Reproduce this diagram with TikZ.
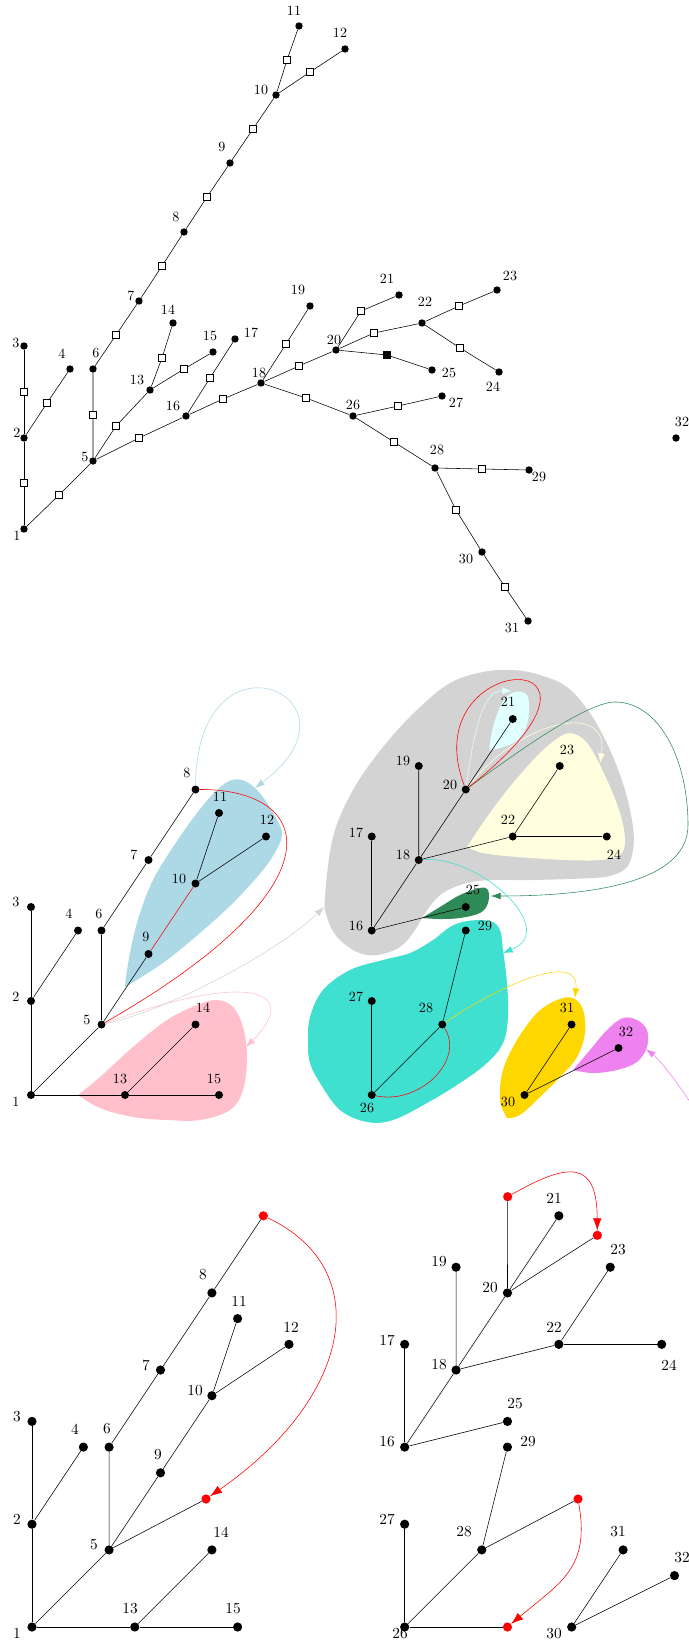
\documentclass[tikz,border=0pt]{standalone}
\usepackage{tikz}
\usetikzlibrary{arrows.meta}
\usepackage{xcolor}
\definecolor{blobblue}{RGB}{173,216,230}
\definecolor{blobpink}{RGB}{255,192,203}
\definecolor{blobgray}{RGB}{211,211,211}
\definecolor{blobcyan}{RGB}{224,255,255}
\definecolor{blobyellow}{RGB}{255,255,224}
\definecolor{blobgreen}{RGB}{46,139,87}
\definecolor{blobturq}{RGB}{64,224,208}
\definecolor{blobgold}{RGB}{255,215,0}
\definecolor{blobviolet}{RGB}{238,130,238}
\tikzset{
  vtxA/.style={circle, fill=black, inner sep=0pt, minimum size=0.185cm},
  vtxB/.style={circle, fill=black, inner sep=0pt, minimum size=0.2cm},
  vtxC/.style={circle, fill=black, inner sep=0pt, minimum size=0.23cm},
  hitC/.style={vtxC, fill=red},
  sq/.style={rectangle, draw=black, fill=white, inner sep=0pt, minimum size=0.17cm, line width=0.5pt},
  sqfull/.style={sq, fill=black},
  lbl/.style={inner sep=0pt},
  lblC/.style={inner sep=0pt, font=\fontsize{10.9}{13}\selectfont},
  tipB/.style={-{Latex[length=2.4mm,width=1.7mm]}},
  tipC/.style={-{Latex[length=3mm,width=2.1mm]}}
}
\begin{document}
\begin{tikzpicture}[x=0.025cm, y=-0.025cm]
\useasboundingbox (0,0) rectangle (689,1641);

\node[vtxA] (a1) at (24,529) {};
\node[vtxA] (a2) at (24,438) {};
\node[vtxA] (a3) at (24,346) {};
\node[vtxA] (a4) at (70,369) {};
\node[vtxA] (a5) at (93,461) {};
\node[vtxA] (a6) at (93,369) {};
\node[vtxA] (a7) at (139,301) {};
\node[vtxA] (a8) at (184,232) {};
\node[vtxA] (a9) at (230,163) {};
\node[vtxA] (a10) at (276,95) {};
\node[vtxA] (a11) at (299,26) {};
\node[vtxA] (a12) at (345,49) {};
\node[vtxA] (a13) at (150,390) {};
\node[vtxA] (a14) at (173,323) {};
\node[vtxA] (a15) at (213,352) {};
\node[vtxA] (a16) at (186,416) {};
\node[vtxA] (a17) at (235,339) {};
\node[vtxA] (a18) at (261,383) {};
\node[vtxA] (a19) at (310,306) {};
\node[vtxA] (a20) at (336,350) {};
\node[vtxA] (a21) at (399,295) {};
\node[vtxA] (a22) at (422,323) {};
\node[vtxA] (a23) at (497,290) {};
\node[vtxA] (a24) at (499,372) {};
\node[vtxA] (a25) at (432,370) {};
\node[vtxA] (a26) at (353,416) {};
\node[vtxA] (a27) at (442,396) {};
\node[vtxA] (a28) at (435,468) {};
\node[vtxA] (a29) at (529,470) {};
\node[vtxA] (a30) at (482,552) {};
\node[vtxA] (a31) at (528,621) {};
\node[vtxA] (a32) at (676,438) {};

\node[sq] (m1x2) at (24,483) {};
\node[sq] (m2x3) at (24,392) {};
\node[sq] (m2x4) at (47,403) {};
\node[sq] (m1x5) at (59,495) {};
\node[sq] (m5x6) at (93,415) {};
\node[sq] (m6x7) at (116,335) {};
\node[sq] (m7x8) at (162,266) {};
\node[sq] (m8x9) at (207,197) {};
\node[sq] (m9x10) at (253,129) {};
\node[sq] (m10x11) at (287,60) {};
\node[sq] (m10x12) at (310,72) {};
\node[sq] (m5x13) at (116,426) {};
\node[sq] (m13x14) at (162,358) {};
\node[sq] (m13x15) at (184,369) {};
\node[sq] (m5x16) at (139,438) {};
\node[sq] (m16x17) at (210,378) {};
\node[sq] (m16x18) at (223,399) {};
\node[sq] (m18x19) at (286,344) {};
\node[sq] (m18x20) at (299,366) {};
\node[sq] (m18x26) at (306,398) {};
\node[sq] (m20x21) at (361,311) {};
\node[sq] (m20x22) at (374,333) {};
\node[sqfull] (m20x25) at (387,355) {};
\node[sq] (m22x23) at (459,306) {};
\node[sq] (m22x24) at (460,348) {};
\node[sq] (m26x27) at (398,406) {};
\node[sq] (m26x28) at (394,442) {};
\node[sq] (m28x29) at (482,469) {};
\node[sq] (m28x30) at (456,510) {};
\node[sq] (m30x31) at (505,587) {};

\draw (a1) -- (m1x2) -- (a2) -- (m2x3) -- (a3);
\draw (a2) -- (m2x4) -- (a4);
\draw (a1) -- (m1x5) -- (a5) -- (m5x6) -- (a6) -- (m6x7) -- (a7) -- (m7x8) -- (a8) -- (m8x9) -- (a9) -- (m9x10) -- (a10) -- (m10x11) -- (a11);
\draw (a10) -- (m10x12) -- (a12);
\draw (a5) -- (m5x13) -- (a13) -- (m13x14) -- (a14);
\draw (a13) -- (m13x15) -- (a15);
\draw (a5) -- (m5x16) -- (a16) -- (m16x17) -- (a17);
\draw (a16) -- (m16x18) -- (a18) -- (m18x19) -- (a19);
\draw (a18) -- (m18x20) -- (a20) -- (m20x21) -- (a21);
\draw (a20) -- (m20x22) -- (a22) -- (m22x23) -- (a23);
\draw (a22) -- (m22x24) -- (a24);
\draw (a20) -- (m20x25) -- (a25);
\draw (a18) -- (m18x26) -- (a26) -- (m26x27) -- (a27);
\draw (a26) -- (m26x28) -- (a28) -- (m28x29) -- (a29);
\draw (a28) -- (m28x30) -- (a30) -- (m30x31) -- (a31);

\node[lbl] (la1) at (17,536) {1};
\node[lbl] (la2) at (17,433) {2};
\node[lbl] (la3) at (16,343) {3};
\node[lbl] (la4) at (62,354) {4};
\node[lbl] (la5) at (85,457) {5};
\node[lbl] (la6) at (96,353) {6};
\node[lbl] (la7) at (131,296) {7};
\node[lbl] (la8) at (176,217) {8};
\node[lbl] (la9) at (222,147) {9};
\node[lbl] (la10) at (261,90) {10};
\node[lbl] (la11) at (294,11) {11};
\node[lbl] (la12) at (340,33) {12};
\node[lbl] (la13) at (137,380) {13};
\node[lbl] (la14) at (168,310) {14};
\node[lbl] (la15) at (210,336) {15};
\node[lbl] (la16) at (173,406) {16};
\node[lbl] (la17) at (251,333) {17};
\node[lbl] (la18) at (259,373) {18};
\node[lbl] (la19) at (298,290) {19};
\node[lbl] (la20) at (334,340) {20};
\node[lbl] (la21) at (387,279) {21};
\node[lbl] (la22) at (425,302) {22};
\node[lbl] (la23) at (510,276) {23};
\node[lbl] (la24) at (493,387) {24};
\node[lbl] (la25) at (449,373) {25};
\node[lbl] (la26) at (353,405) {26};
\node[lbl] (la27) at (456,403) {27};
\node[lbl] (la28) at (437,450) {28};
\node[lbl] (la29) at (539,477) {29};
\node[lbl] (la30) at (466,559) {30};
\node[lbl] (la31) at (512,628) {31};
\node[lbl] (la32) at (682,422) {32};

\fill[blobgray] plot[smooth cycle, tension=0.6] coordinates {(325,897) (333,837) (353,790) (383,747) (417,710) (450,683) (483,672) (513,670) (540,675) (567,687) (590,713) (610,750) (625,790) (633,827) (633,850) (627,867) (613,875) (593,878) (533,880) (493,880) (467,883) (443,893) (427,910) (415,930) (400,947) (377,955) (357,952) (337,937) (327,917)};
\fill[blobcyan] plot[smooth, tension=0.6] coordinates {(489,750) (493,727) (502,703) (512,693) (522,692) (528,697) (529,713) (525,730) (515,742) (500,748) (489,750)} -- cycle;
\fill[blobyellow] plot[smooth, tension=0.6] coordinates {(467,847) (487,817) (513,783) (540,753) (563,735) (577,735) (590,747) (607,780) (620,813) (625,840) (620,855) (600,860) (567,860) (517,857) (483,853) (467,847)} -- cycle;
\fill[blobgreen] plot[smooth, tension=0.6] coordinates {(422,918) (440,907) (460,895) (480,888) (488,890) (488,903) (480,913) (460,918) (440,919) (422,918)} -- cycle;
\fill[blobturq] plot[smooth cycle, tension=0.6] coordinates {(308,1043) (310,1017) (323,990) (350,970) (383,960) (410,953) (433,940) (450,927) (467,921) (490,921) (500,930) (503,950) (507,983) (508,1017) (503,1043) (487,1063) (460,1083) (427,1103) (393,1120) (367,1122) (340,1110) (320,1083) (310,1063)};
\fill[blobgold] plot[smooth, tension=0.6] coordinates {(507,1118) (500,1100) (503,1070) (517,1040) (537,1013) (557,1000) (573,998) (583,1010) (585,1033) (577,1057) (560,1077) (540,1097) (520,1115) (507,1118)} -- cycle;
\fill[blobviolet] plot[smooth, tension=0.6] coordinates {(573,1070) (590,1050) (607,1030) (623,1018) (637,1020) (647,1030) (647,1047) (637,1062) (617,1070) (593,1073) (573,1070)} -- cycle;
\fill[blobblue] plot[smooth, tension=0.6] coordinates {(125,987) (127,970) (132,943) (140,913) (153,880) (173,847) (197,813) (217,790) (232,780) (247,782) (263,797) (277,820) (282,833) (278,847) (263,870) (233,903) (200,933) (167,960) (140,978) (125,987)} -- cycle;
\fill[blobpink] plot[smooth, tension=0.6] coordinates {(78,1095) (100,1077) (133,1047) (167,1020) (197,1005) (217,1000) (233,1007) (243,1027) (247,1057) (243,1090) (230,1110) (200,1120) (167,1120) (133,1117) (100,1108) (78,1095)} -- cycle;

\node[vtxB] (b1) at (31,1095) {};
\node[vtxB] (b2) at (31,1001) {};
\node[vtxB] (b3) at (31,907) {};
\node[vtxB] (b4) at (78,930.5) {};
\node[vtxB] (b5) at (101.5,1024.5) {};
\node[vtxB] (b6) at (101.5,930.5) {};
\node[vtxB] (b7) at (148.5,860) {};
\node[vtxB] (b8) at (195.5,789.5) {};
\node[vtxB] (b9) at (148.5,954) {};
\node[vtxB] (b10) at (195.5,883.5) {};
\node[vtxB] (b11) at (219,813) {};
\node[vtxB] (b12) at (266,836.5) {};
\node[vtxB] (b13) at (125,1095) {};
\node[vtxB] (b14) at (195.5,1024.5) {};
\node[vtxB] (b15) at (219,1095) {};
\node[vtxB] (b16) at (371.75,930.5) {};
\node[vtxB] (b17) at (371.75,836.5) {};
\node[vtxB] (b18) at (418.75,860) {};
\node[vtxB] (b19) at (418.75,766) {};
\node[vtxB] (b20) at (465.75,789.5) {};
\node[vtxB] (b21) at (512.75,719) {};
\node[vtxB] (b22) at (512.75,836.5) {};
\node[vtxB] (b23) at (559.75,766) {};
\node[vtxB] (b24) at (606.75,836.5) {};
\node[vtxB] (b25) at (465.75,907) {};
\node[vtxB] (b26) at (371.75,1095) {};
\node[vtxB] (b27) at (371.75,1001) {};
\node[vtxB] (b28) at (442.25,1024.5) {};
\node[vtxB] (b29) at (465.75,930.5) {};
\node[vtxB] (b30) at (524.5,1095) {};
\node[vtxB] (b31) at (571.5,1024.5) {};
\node[vtxB] (b32) at (618.5,1048) {};

\coordinate (tipLB) at (255,788);
\coordinate (tipPK) at (246,1047);
\coordinate (tipGY) at (324,907);
\coordinate (tipCY) at (512,691);
\coordinate (tipYL) at (600,763);
\coordinate (tipGN) at (491,896);
\coordinate (tipTQ) at (503,953);
\coordinate (tipGD) at (575,998);
\coordinate (tipVL) at (646,1049);
\coordinate (srcVL) at (705,1125);

\draw[blobblue, tipB] (b8) .. controls (197,619) and (375,698) .. (tipLB);
\draw[blobpink, tipB] (b5) .. controls (251,970) and (302,991) .. (tipPK);
\draw[blobgray, tipB] (b5) .. controls (170,1010) and (280,950) .. (tipGY);
\draw[blobcyan, tipB] (b20) .. controls (474,730) and (483,690) .. (tipCY);
\draw[blobyellow, tipB] (b20) .. controls (520,720) and (610,700) .. (tipYL);
\draw[blobgreen, tipB] (b20) .. controls (520,750) and (590,700) .. (617,702) .. controls (660,704) and (688,760) .. (688,825) .. controls (688,880) and (600,896) .. (tipGN);
\draw[blobturq, tipB] (b18) .. controls (480,855) and (560,930) .. (tipTQ);
\draw[blobgold, tipB] (b28) .. controls (500,985) and (580,950) .. (tipGD);
\draw[blobviolet, tipB] (srcVL) .. controls (680,1085) and (660,1060) .. (tipVL);
\draw[red] (b8) .. controls (315,789) and (345,885) .. (b5);
\draw[red] (b20) .. controls (412,648) and (655,640) .. (b20);
\draw[red] (b26) .. controls (420,1105) and (465,1060) .. (b28);

\draw (b1) -- (b2) -- (b3);
\draw (b2) -- (b4);
\draw (b1) -- (b5) -- (b6) -- (b7) -- (b8);
\draw (b5) -- (b9);
\draw[red] (b9) -- (b10);
\draw (b10) -- (b11);
\draw (b10) -- (b12);
\draw (b1) -- (b13) -- (b15);
\draw (b13) -- (b14);
\draw (b16) -- (b17);
\draw (b16) -- (b18) -- (b19);
\draw (b18) -- (b20) -- (b21);
\draw (b18) -- (b22) -- (b23);
\draw (b22) -- (b24);
\draw (b16) -- (b25);
\draw (b26) -- (b27);
\draw (b26) -- (b28) -- (b29);
\draw (b30) -- (b31);
\draw (b30) -- (b32);

\node[lbl] (lb1) at (16,1102) {1};
\node[lbl] (lb2) at (16,997) {2};
\node[lbl] (lb3) at (16,902) {3};
\node[lbl] (lb4) at (69,914) {4};
\node[lbl] (lb5) at (87,1020) {5};
\node[lbl] (lb6) at (99,914) {6};
\node[lbl] (lb7) at (134,855) {7};
\node[lbl] (lb8) at (187,773) {8};
\node[lbl] (lb9) at (146,937) {9};
\node[lbl] (lb10) at (179,879) {10};
\node[lbl] (lb11) at (220,797) {11};
\node[lbl] (lb12) at (267,820) {12};
\node[lbl] (lb13) at (120,1079) {13};
\node[lbl] (lb14) at (203,1008) {14};
\node[lbl] (lb15) at (214,1079) {15};
\node[lbl] (lb16) at (356,926) {16};
\node[lbl] (lb17) at (356,833) {17};
\node[lbl] (lb18) at (403,855) {18};
\node[lbl] (lb19) at (403,761) {19};
\node[lbl] (lb20) at (450,785) {20};
\node[lbl] (lb21) at (508,702) {21};
\node[lbl] (lb22) at (508,820) {22};
\node[lbl] (lb23) at (567,750) {23};
\node[lbl] (lb24) at (614,855) {24};
\node[lbl] (lb25) at (473,890) {25};
\node[lbl] (lb26) at (367,1108) {26};
\node[lbl] (lb27) at (356,997) {27};
\node[lbl] (lb28) at (426,1008) {28};
\node[lbl] (lb29) at (485,926) {29};
\node[lbl] (lb30) at (508,1102) {30};
\node[lbl] (lb31) at (567,1008) {31};
\node[lbl] (lb32) at (626,1032) {32};

\node[vtxC] (c1) at (32,1627) {};
\node[vtxC] (c2) at (32,1524.2) {};
\node[vtxC] (c3) at (32,1421.4) {};
\node[vtxC] (c4) at (83.4,1447.1) {};
\node[vtxC] (c5) at (109.1,1549.9) {};
\node[vtxC] (c6) at (109.1,1447.1) {};
\node[vtxC] (c7) at (160.5,1370) {};
\node[vtxC] (c8) at (211.9,1292.9) {};
\node[vtxC] (c9) at (160.5,1472.8) {};
\node[vtxC] (c10) at (211.9,1395.7) {};
\node[vtxC] (c11) at (237.6,1318.6) {};
\node[vtxC] (c12) at (289,1344.3) {};
\node[vtxC] (c13) at (134.8,1627) {};
\node[vtxC] (c14) at (211.9,1549.9) {};
\node[vtxC] (c15) at (237.6,1627) {};
\node[vtxC] (c16) at (404.65,1447.1) {};
\node[vtxC] (c17) at (404.65,1344.3) {};
\node[vtxC] (c18) at (456.05,1370) {};
\node[vtxC] (c19) at (456.05,1267.2) {};
\node[vtxC] (c20) at (507.45,1292.9) {};
\node[vtxC] (c21) at (558.85,1215.8) {};
\node[vtxC] (c22) at (558.85,1344.3) {};
\node[vtxC] (c23) at (610.25,1267.2) {};
\node[vtxC] (c24) at (661.65,1344.3) {};
\node[vtxC] (c25) at (507.45,1421.4) {};
\node[vtxC] (c26) at (404.65,1627) {};
\node[vtxC] (c27) at (404.65,1524.2) {};
\node[vtxC] (c28) at (481.75,1549.9) {};
\node[vtxC] (c29) at (507.45,1447.1) {};
\node[vtxC] (c30) at (571.7,1627) {};
\node[vtxC] (c31) at (623.1,1549.9) {};
\node[vtxC] (c32) at (674.5,1575.6) {};
\node[hitC] (cA) at (263.3,1215.8) {};
\node[hitC] (cB) at (206,1499) {};
\node[hitC] (cC) at (507.7,1196.7) {};
\node[hitC] (cD) at (597.3,1235.3) {};
\node[hitC] (cE) at (578,1499) {};
\node[hitC] (cF) at (507.45,1627) {};

\draw (c1) -- (c2) -- (c3);
\draw (c2) -- (c4);
\draw (c1) -- (c5) -- (c6) -- (c7) -- (c8) -- (cA);
\draw (c5) -- (c9) -- (c10) -- (c11);
\draw (c10) -- (c12);
\draw (c5) -- (cB);
\draw (c1) -- (c13) -- (c15);
\draw (c13) -- (c14);
\draw (c16) -- (c17);
\draw (c16) -- (c18) -- (c19);
\draw (c18) -- (c20) -- (cC);
\draw (c20) -- (c21);
\draw (c20) -- (cD);
\draw (c18) -- (c22) -- (c23);
\draw (c22) -- (c24);
\draw (c16) -- (c25);
\draw (c26) -- (c27);
\draw (c26) -- (c28) -- (c29);
\draw (c28) -- (cE);
\draw (c26) -- (cF);
\draw (c30) -- (c31);
\draw (c30) -- (c32);
\draw[red, tipC] (cA) .. controls (375.5,1268.5) and (353.6,1396.4) .. (cB);
\draw[red, tipC] (cC) .. controls (569,1162) and (597,1160) .. (cD);
\draw[red, tipC] (cE) .. controls (590,1568) and (561,1582) .. (cF);

\node[lblC] (lc1) at (17,1633) {1};
\node[lblC] (lc2) at (17,1519) {2};
\node[lblC] (lc3) at (17,1417) {3};
\node[lblC] (lc4) at (75,1429) {4};
\node[lblC] (lc5) at (94,1545) {5};
\node[lblC] (lc6) at (107,1429) {6};
\node[lblC] (lc7) at (146,1365) {7};
\node[lblC] (lc8) at (203,1275) {8};
\node[lblC] (lc9) at (158,1455) {9};
\node[lblC] (lc10) at (195,1391) {10};
\node[lblC] (lc11) at (239,1301) {11};
\node[lblC] (lc12) at (291,1327) {12};
\node[lblC] (lc13) at (130,1609) {13};
\node[lblC] (lc14) at (221,1532) {14};
\node[lblC] (lc15) at (233,1609) {15};
\node[lblC] (lc16) at (387,1442) {16};
\node[lblC] (lc17) at (387,1340) {17};
\node[lblC] (lc18) at (439,1365) {18};
\node[lblC] (lc19) at (439,1262) {19};
\node[lblC] (lc20) at (490,1288) {20};
\node[lblC] (lc21) at (554,1198) {21};
\node[lblC] (lc22) at (554,1327) {22};
\node[lblC] (lc23) at (618,1250) {23};
\node[lblC] (lc24) at (669,1365) {24};
\node[lblC] (lc25) at (515,1404) {25};
\node[lblC] (lc26) at (400,1634) {26};
\node[lblC] (lc27) at (387,1519) {27};
\node[lblC] (lc28) at (464,1532) {28};
\node[lblC] (lc29) at (528,1442) {29};
\node[lblC] (lc30) at (554,1634) {30};
\node[lblC] (lc31) at (618,1532) {31};
\node[lblC] (lc32) at (682,1558) {32};
\end{tikzpicture}
\end{document}
